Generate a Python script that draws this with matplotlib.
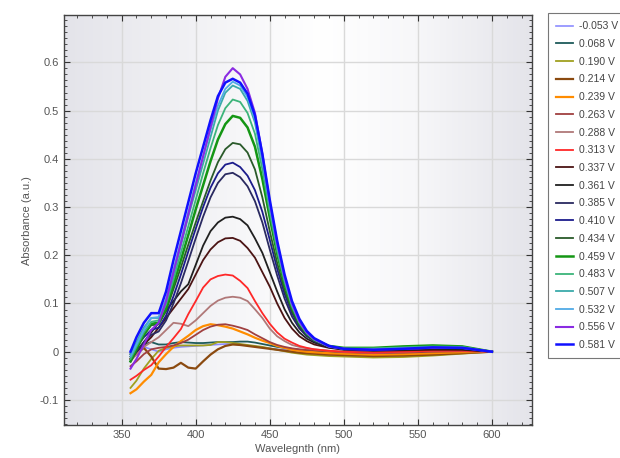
import numpy as np
import matplotlib
matplotlib.use("Agg")
import matplotlib.pyplot as plt
from matplotlib.ticker import MultipleLocator, AutoMinorLocator
from matplotlib.colors import LinearSegmentedColormap

plt.rcParams['font.family'] = ['Liberation Sans', 'DejaVu Sans']

# --- data ---
wavelength = [356, 360, 365, 370, 375, 380, 385, 390, 395, 400, 405, 410, 415, 420, 425,
              430, 435, 440, 445, 450, 455, 460, 465, 470, 475, 480, 490, 500, 520, 540,
              560, 580, 600]

potentials = ["-0.053", "0.068", "0.190", "0.214", "0.239", "0.263", "0.288", "0.313",
              "0.337", "0.361", "0.385", "0.410", "0.434", "0.459", "0.483", "0.507",
              "0.532", "0.556", "0.581"]

a_m053 = [0.002, 0.008, 0.010, 0.005, 0.000, 0.005, 0.008, 0.010, 0.011, 0.012, 0.013, 0.014,
          0.015, 0.016, 0.016, 0.015, 0.013, 0.011, 0.009, 0.007, 0.005, 0.004, 0.003, 0.002,
          0.001, 0.001, 0.000, 0.000, 0.000, 0.001, 0.002, 0.002, 0.000]
a_068 = [-0.005, 0.005, 0.015, 0.020, 0.015, 0.015, 0.018, 0.020, 0.019, 0.018, 0.018, 0.019,
         0.020, 0.020, 0.020, 0.021, 0.021, 0.019, 0.016, 0.013, 0.010, 0.008, 0.006, 0.004,
         0.003, 0.002, 0.000, -0.001, -0.002, 0.000, 0.003, 0.003, 0.000]
a_190 = [-0.075, -0.060, -0.035, -0.015, 0.002, 0.008, 0.011, 0.013, 0.013, 0.013, 0.013, 0.014,
         0.020, 0.020, 0.018, 0.016, 0.014, 0.012, 0.010, 0.007, 0.004, 0.001, -0.002, -0.004,
         -0.006, -0.007, -0.009, -0.010, -0.012, -0.011, -0.008, -0.004, 0.000]
a_214 = [-0.015, -0.005, 0.008, -0.010, -0.035, -0.036, -0.033, -0.023, -0.033, -0.035, -0.020,
         -0.006, 0.005, 0.012, 0.015, 0.014, 0.012, 0.010, 0.008, 0.006, 0.004, 0.002, 0.000,
         -0.002, -0.003, -0.004, -0.006, -0.007, -0.009, -0.008, -0.006, -0.003, 0.000]
a_239 = [-0.086, -0.078, -0.062, -0.048, -0.022, -0.005, 0.010, 0.022, 0.033, 0.045, 0.053,
         0.057, 0.055, 0.052, 0.048, 0.042, 0.036, 0.029, 0.023, 0.018, 0.012, 0.008, 0.004,
         0.002, 0.000, -0.001, -0.003, -0.004, -0.006, -0.005, -0.003, -0.001, 0.000]
a_263 = [-0.030, -0.020, -0.005, 0.005, 0.008, 0.010, 0.013, 0.018, 0.025, 0.035, 0.045, 0.052,
         0.056, 0.057, 0.054, 0.050, 0.045, 0.036, 0.028, 0.020, 0.014, 0.010, 0.007, 0.005,
         0.004, 0.003, 0.001, -0.001, -0.003, -0.002, 0.000, 0.001, 0.000]
a_288 = [-0.020, -0.005, 0.010, 0.020, 0.030, 0.045, 0.060, 0.058, 0.053, 0.065, 0.080, 0.095,
         0.106, 0.112, 0.114, 0.112, 0.105, 0.088, 0.070, 0.048, 0.032, 0.022, 0.014, 0.010,
         0.007, 0.005, 0.002, 0.000, -0.002, 0.000, 0.002, 0.002, 0.000]
a_313 = [-0.058, -0.050, -0.038, -0.028, -0.010, 0.010, 0.028, 0.047, 0.078, 0.105, 0.133,
         0.150, 0.157, 0.160, 0.158, 0.147, 0.132, 0.105, 0.080, 0.058, 0.040, 0.027, 0.019,
         0.012, 0.008, 0.005, 0.002, 0.000, -0.002, 0.000, 0.002, 0.002, 0.000]
a_337 = [-0.015, 0.000, 0.015, 0.030, 0.050, 0.070, 0.090, 0.110, 0.130, 0.160, 0.190, 0.212,
         0.227, 0.235, 0.236, 0.230, 0.215, 0.195, 0.165, 0.135, 0.100, 0.070, 0.048, 0.032,
         0.022, 0.015, 0.008, 0.004, 0.002, 0.003, 0.004, 0.004, 0.000]
a_361 = [-0.010, 0.000, 0.020, 0.040, 0.060, 0.085, 0.105, 0.125, 0.140, 0.180, 0.220, 0.250,
         0.268, 0.278, 0.280, 0.275, 0.262, 0.235, 0.205, 0.165, 0.125, 0.088, 0.060, 0.040,
         0.027, 0.019, 0.009, 0.005, 0.003, 0.004, 0.006, 0.005, 0.000]
a_385 = [-0.020, 0.000, 0.020, 0.035, 0.042, 0.065, 0.100, 0.142, 0.188, 0.235, 0.280, 0.320,
         0.350, 0.368, 0.371, 0.362, 0.343, 0.312, 0.268, 0.212, 0.158, 0.110, 0.073, 0.048,
         0.032, 0.022, 0.010, 0.006, 0.005, 0.006, 0.008, 0.007, 0.000]
a_410 = [-0.005, 0.010, 0.030, 0.045, 0.050, 0.075, 0.115, 0.160, 0.208, 0.255, 0.300, 0.340,
         0.370, 0.388, 0.392, 0.383, 0.365, 0.335, 0.290, 0.232, 0.172, 0.120, 0.080, 0.052,
         0.034, 0.023, 0.010, 0.006, 0.005, 0.007, 0.009, 0.008, 0.000]
a_434 = [-0.010, 0.010, 0.035, 0.055, 0.057, 0.085, 0.130, 0.175, 0.222, 0.268, 0.312, 0.355,
         0.393, 0.420, 0.433, 0.430, 0.413, 0.378, 0.320, 0.250, 0.184, 0.128, 0.084, 0.054,
         0.035, 0.023, 0.011, 0.007, 0.007, 0.009, 0.011, 0.010, 0.000]
a_459 = [-0.020, 0.005, 0.035, 0.058, 0.060, 0.090, 0.140, 0.190, 0.242, 0.295, 0.345, 0.395,
         0.440, 0.472, 0.489, 0.485, 0.465, 0.425, 0.358, 0.278, 0.203, 0.140, 0.092, 0.059,
         0.038, 0.025, 0.012, 0.008, 0.008, 0.011, 0.013, 0.011, 0.000]
a_483 = [-0.015, 0.010, 0.040, 0.062, 0.065, 0.098, 0.150, 0.205, 0.260, 0.315, 0.370, 0.422,
         0.470, 0.505, 0.523, 0.518, 0.495, 0.452, 0.378, 0.290, 0.210, 0.145, 0.094, 0.060,
         0.038, 0.025, 0.011, 0.007, 0.007, 0.009, 0.011, 0.010, 0.000]
a_507 = [-0.005, 0.020, 0.050, 0.070, 0.070, 0.105, 0.160, 0.220, 0.280, 0.335, 0.390, 0.445,
         0.500, 0.537, 0.552, 0.545, 0.520, 0.475, 0.395, 0.300, 0.218, 0.150, 0.097, 0.061,
         0.039, 0.025, 0.011, 0.006, 0.006, 0.008, 0.010, 0.009, 0.000]
a_532 = [-0.010, 0.015, 0.045, 0.070, 0.072, 0.110, 0.170, 0.230, 0.290, 0.350, 0.405, 0.460,
         0.510, 0.545, 0.560, 0.552, 0.528, 0.482, 0.400, 0.305, 0.222, 0.152, 0.098, 0.062,
         0.040, 0.026, 0.011, 0.006, 0.005, 0.007, 0.009, 0.008, 0.000]
a_556 = [-0.035, -0.015, 0.015, 0.045, 0.060, 0.105, 0.165, 0.225, 0.285, 0.345, 0.405, 0.465,
         0.525, 0.570, 0.588, 0.575, 0.545, 0.495, 0.410, 0.310, 0.225, 0.155, 0.100, 0.063,
         0.040, 0.026, 0.011, 0.006, 0.004, 0.006, 0.008, 0.008, 0.000]
a_581 = [0.000, 0.030, 0.060, 0.080, 0.080, 0.125, 0.190, 0.250, 0.310, 0.370, 0.425, 0.480,
         0.530, 0.558, 0.566, 0.558, 0.535, 0.490, 0.410, 0.315, 0.230, 0.160, 0.105, 0.068,
         0.043, 0.028, 0.012, 0.006, 0.004, 0.006, 0.009, 0.008, 0.000]

spectra = [a_m053, a_068, a_190, a_214, a_239, a_263, a_288, a_313, a_337, a_361, a_385,
           a_410, a_434, a_459, a_483, a_507, a_532, a_556, a_581]

colors = ['#8c8cff', '#1e5a5a', '#a0a020', '#8b4a10', '#ff8c00', '#a04040', '#b07878',
          '#ff2828', '#4b1414', '#202020', '#2a2a60', '#1c1c8c', '#2a5a2a', '#149614',
          '#3cb47a', '#3aaaaa', '#50aae6', '#8a2be2', '#1010ff']
widths = [1.2, 1.3, 1.3, 1.6, 1.6, 1.3, 1.3, 1.3, 1.3, 1.3, 1.3, 1.3, 1.3, 1.8,
          1.3, 1.3, 1.3, 1.5, 1.8]

fig = plt.figure(figsize=(6.2, 4.58), dpi=100)
ax = fig.add_axes([0.103, 0.072, 0.755, 0.895])

# grey -> white -> grey background
bg_cmap = LinearSegmentedColormap.from_list(
    "bg", [(0.0, '#e4e4ea'), (0.55, '#ffffff'), (0.75, '#f7f7f9'), (1.0, '#e4e4ea')])
ax.imshow(np.linspace(0, 1, 256).reshape(1, -1), cmap=bg_cmap, aspect='auto',
          extent=[0, 1, 0, 1], transform=ax.transAxes, zorder=0)

for v, a, c, w in zip(potentials, spectra, colors, widths):
    ax.plot(wavelength, a, color=c, lw=w, label=v + " V", zorder=2)

ax.set_xlim(311, 627)
ax.set_ylim(-0.152, 0.698)
ax.xaxis.set_major_locator(MultipleLocator(50))
ax.xaxis.set_minor_locator(MultipleLocator(10))
ax.yaxis.set_minor_locator(AutoMinorLocator(8))
ax.set_yticks([-0.1, 0, 0.1, 0.2, 0.3, 0.4, 0.5, 0.6])
ax.set_yticklabels(["-0.1", "0", "0.1", "0.2", "0.3", "0.4", "0.5", "0.6"])

ax.grid(True, which='major', color='#d9d9d9', lw=1.0, zorder=1)
ax.set_axisbelow(True)
ax.tick_params(which='both', direction='in', top=True, right=True, colors='#333333',
               labelcolor='#555555', labelsize=8)
ax.tick_params(which='major', length=4)
ax.tick_params(which='minor', length=2)
for s in ax.spines.values():
    s.set_color('#444444')
    s.set_linewidth(1.0)

ax.set_xlabel("Wavelegnth (nm)", fontsize=8, color='#555555', labelpad=3)
ax.set_ylabel("Absorbance (a.u.)", fontsize=8, color='#555555', labelpad=6)

leg = fig.legend(loc='upper left', bbox_to_anchor=(548 / 620, 1 - 13 / 458),
                 fontsize=7.5, frameon=True, fancybox=False, handlelength=1.6,
                 handletextpad=0.6, labelspacing=0.74, borderpad=0.8, borderaxespad=0)
leg.get_frame().set_edgecolor('#555555')
leg.get_frame().set_linewidth(0.8)
for t in leg.get_texts():
    t.set_color('#444444')

fig.savefig("out.png", dpi=100)
